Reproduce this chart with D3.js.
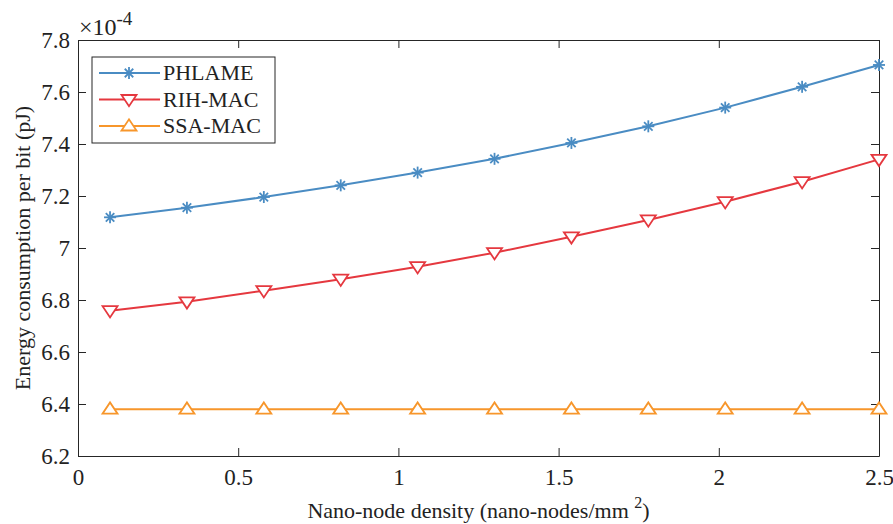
<!DOCTYPE html>
<html>
<head>
<meta charset="utf-8">
<script src="https://cdn.jsdelivr.net/npm/d3@7"></script>
<style>
  body { margin: 0; background: #fff; }
  text { font-family: "Liberation Serif", "Times New Roman", serif; fill: #222; }
</style>
</head>
<body>
<div id="chart"></div>
<script>
// data (values are x10^-4 pJ)
const density = [0.1, 0.34, 0.58, 0.82, 1.06, 1.30, 1.54, 1.78, 2.02, 2.26, 2.50];
const phlame = [7.118, 7.155, 7.196, 7.241, 7.290, 7.343, 7.404, 7.468, 7.540, 7.620, 7.704];
const rihMac = [6.759, 6.793, 6.836, 6.880, 6.928, 6.982, 7.043, 7.108, 7.178, 7.255, 7.341];
const ssaMac = [6.38, 6.38, 6.38, 6.38, 6.38, 6.38, 6.38, 6.38, 6.38, 6.38, 6.38];
const xTicks = [0, 0.5, 1, 1.5, 2, 2.5];
const yTicks = [6.2, 6.4, 6.6, 6.8, 7, 7.2, 7.4, 7.6, 7.8];

const series = [
  { name: 'PHLAME', values: phlame, color: '#4a8cc3', marker: 'star' },
  { name: 'RIH-MAC', values: rihMac, color: '#e5383f', marker: 'down' },
  { name: 'SSA-MAC', values: ssaMac, color: '#f7962b', marker: 'up' },
];

const width = 893, height = 524;
const margin = { top: 40, right: 14, bottom: 68, left: 78 };

const svg = d3.select('#chart').append('svg')
  .attr('width', width).attr('height', height);

const x = d3.scaleLinear().domain([0, 2.5]).range([margin.left, width - margin.right]);
const y = d3.scaleLinear().domain([6.2, 7.8]).range([height - margin.bottom, margin.top]);

const axisColor = '#262626';
const tickFmt = d => String(d);

// axes, ticks pointing inward, box on all four sides
function styleAxis(g) {
  g.attr('font-size', null).attr('font-family', null);
  g.select('.domain').attr('stroke', axisColor).attr('stroke-width', 1);
  g.selectAll('.tick line').attr('stroke', axisColor);
  g.selectAll('.tick text').style('font-size', '23px').attr('fill', '#222');
}

svg.append('g')
  .attr('transform', `translate(0,${y.range()[0]})`)
  .call(d3.axisBottom(x).tickValues(xTicks).tickFormat(tickFmt).tickSizeInner(-8).tickSizeOuter(0).tickPadding(13))
  .call(styleAxis);

svg.append('g')
  .attr('transform', `translate(0,${y.range()[1]})`)
  .call(d3.axisTop(x).tickValues(xTicks).tickFormat('').tickSizeInner(-8).tickSizeOuter(0))
  .call(styleAxis);

svg.append('g')
  .attr('transform', `translate(${x.range()[0]},0)`)
  .call(d3.axisLeft(y).tickValues(yTicks).tickFormat(tickFmt).tickSizeInner(-8).tickSizeOuter(0).tickPadding(8))
  .call(styleAxis);

svg.append('g')
  .attr('transform', `translate(${x.range()[1]},0)`)
  .call(d3.axisRight(y).tickValues(yTicks).tickFormat('').tickSizeInner(-8).tickSizeOuter(0))
  .call(styleAxis);

// exponent label
const expo = svg.append('text')
  .attr('x', x(0) + 1).attr('y', y(7.8) - 5)
  .style('font-size', '24px');
expo.append('tspan').text('\u00d710');
expo.append('tspan').attr('dy', -10).style('font-size', '19px').text('-4');

// axis titles
svg.append('text')
  .attr('transform', `translate(30,${(y.range()[0] + y.range()[1]) / 2}) rotate(-90)`)
  .attr('text-anchor', 'middle')
  .style('font-size', '22px')
  .text('Energy consumption per bit (pJ)');

const xl = svg.append('text')
  .attr('x', (x.range()[0] + x.range()[1]) / 2)
  .attr('y', 518)
  .attr('text-anchor', 'middle')
  .style('font-size', '22px');
xl.append('tspan').text('Nano-node density (nano-nodes/mm ');
xl.append('tspan').attr('dy', -10).style('font-size', '16px').text('2');
xl.append('tspan').attr('dy', 10).text(')');

// markers
function drawMarker(g, type, color) {
  if (type === 'star') {
    const r = 6;
    for (let i = 0; i < 4; i++) {
      const a = i * Math.PI / 4;
      g.append('line')
        .attr('x1', -r * Math.cos(a)).attr('y1', -r * Math.sin(a))
        .attr('x2', r * Math.cos(a)).attr('y2', r * Math.sin(a))
        .attr('stroke', color).attr('stroke-width', 1.8);
    }
  } else {
    const s = 7.5;
    const pts = type === 'down'
      ? [[-s, -s * 0.6], [s, -s * 0.6], [0, s * 0.9]]
      : [[-s, s * 0.6], [s, s * 0.6], [0, -s * 0.9]];
    g.append('path')
      .attr('d', 'M' + pts.join('L') + 'Z')
      .attr('fill', '#fff').attr('stroke', color).attr('stroke-width', 1.8);
  }
}

const line = d3.line().x(d => x(d[0])).y(d => y(d[1]));

series.forEach(s => {
  const pts = density.map((d, i) => [d, s.values[i]]);
  svg.append('path')
    .datum(pts)
    .attr('d', line)
    .attr('fill', 'none')
    .attr('stroke', s.color)
    .attr('stroke-width', 2);
  svg.append('g').selectAll('g')
    .data(pts)
    .join('g')
    .attr('transform', d => `translate(${x(d[0])},${y(d[1])})`)
    .each(function () { drawMarker(d3.select(this), s.marker, s.color); });
});

// legend
const legend = svg.append('g').attr('transform', 'translate(92,57)');
legend.append('rect')
  .attr('width', 183).attr('height', 86)
  .attr('fill', '#fff').attr('stroke', axisColor).attr('stroke-width', 1);

series.forEach((s, i) => {
  const row = legend.append('g').attr('transform', `translate(0,${16 + i * 26.5})`);
  row.append('line')
    .attr('x1', 7).attr('x2', 68)
    .attr('stroke', s.color).attr('stroke-width', 2);
  drawMarker(row.append('g').attr('transform', 'translate(37,0)'), s.marker, s.color);
  row.append('text')
    .attr('x', 71).attr('y', 7)
    .style('font-size', '22px')
    .text(s.name);
});
</script>
</body>
</html>
